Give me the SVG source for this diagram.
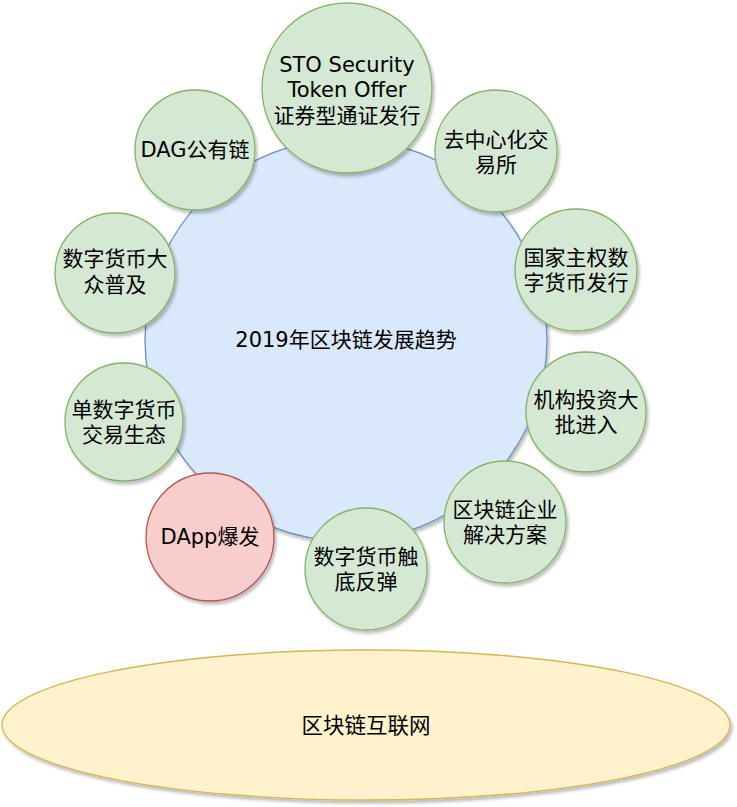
<svg xmlns="http://www.w3.org/2000/svg" width="737" height="807" viewBox="0 0 737 807">
<defs>
<filter id="sh" x="-10%" y="-10%" width="125%" height="125%">
<feDropShadow dx="2" dy="3" stdDeviation="1.5" flood-color="#000" flood-opacity="0.25"/>
</filter>
<style>
text{font-family:"DejaVu Sans","Noto Sans CJK SC",sans-serif;font-size:21px;fill:#000;text-anchor:middle;dominant-baseline:central}
.g{fill:#d5e8d4;stroke:#82b366;stroke-width:1.3;filter:url(#sh)}
.b{fill:#dae8fc;stroke:#6c8ebf;stroke-width:1.3;filter:url(#sh)}
.r{fill:#f8cecc;stroke:#b85450;stroke-width:1.3;filter:url(#sh)}
.y{fill:#fff2cc;stroke:#d6b656;stroke-width:1.3;filter:url(#sh)}
</style>
</defs>
<rect width="737" height="807" fill="#fff"/>
<g id="connectors"/>
<g id="center">
<circle class="b" cx="346" cy="340" r="201"/>
<text x="346" y="340">2019年区块链发展趋势</text>
</g>
<g id="sto">
<circle class="g" cx="347" cy="88" r="85"/>
<text x="347" y="65">STO Security</text>
<text x="347" y="90">Token Offer</text>
<text x="347" y="116">证券型通证发行</text>
</g>
<g id="dag">
<circle class="g" cx="195" cy="150" r="60"/>
<text x="195" y="150">DAG公有链</text>
</g>
<g id="dex">
<circle class="g" cx="496" cy="151" r="61"/>
<text x="496" y="140">去中心化交</text>
<text x="496" y="165">易所</text>
</g>
<g id="popular">
<circle class="g" cx="115" cy="273" r="60"/>
<text x="115" y="259">数字货币大</text>
<text x="115" y="285">众普及</text>
</g>
<g id="sovereign">
<circle class="g" cx="576" cy="270" r="61"/>
<text x="576" y="258">国家主权数</text>
<text x="576" y="283">字货币发行</text>
</g>
<g id="single">
<circle class="g" cx="124" cy="422" r="59"/>
<text x="124" y="410">单数字货币</text>
<text x="124" y="435">交易生态</text>
</g>
<g id="institution">
<circle class="g" cx="586" cy="412" r="60"/>
<text x="586" y="400">机构投资大</text>
<text x="586" y="425">批进入</text>
</g>
<g id="dapp">
<circle class="r" cx="210" cy="537" r="64"/>
<text x="210" y="537">DApp爆发</text>
</g>
<g id="rebound">
<circle class="g" cx="366" cy="569" r="61"/>
<text x="366" y="557">数字货币触</text>
<text x="366" y="582">底反弹</text>
</g>
<g id="enterprise">
<circle class="g" cx="505" cy="522" r="61"/>
<text x="505" y="510">区块链企业</text>
<text x="505" y="535">解决方案</text>
</g>
<g id="internet">
<ellipse class="y" cx="366" cy="725" rx="364" ry="75"/>
<text x="366" y="725" style="font-size:21.5px">区块链互联网</text>
</g>
</svg>
